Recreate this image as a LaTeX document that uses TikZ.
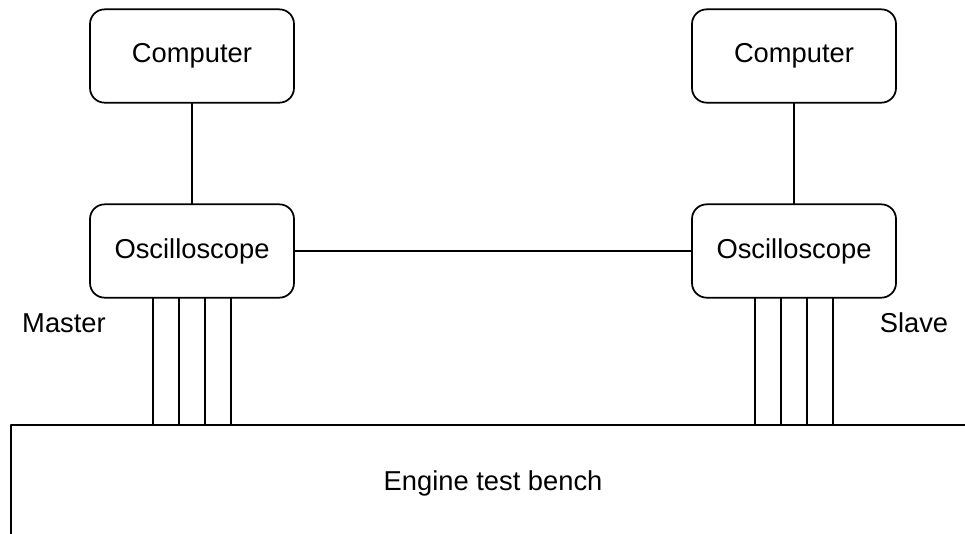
\documentclass[tikz,border=0pt]{standalone}
\usepackage{fontspec}
\setmainfont{Liberation Sans}
\usetikzlibrary{positioning}

\begin{document}
\begin{tikzpicture}[x=0.75pt, y=-0.75pt, line cap=round, line join=round]
    \tikzset{
      unit/.style={draw, line width=1.3pt, rounded corners=11pt,
        minimum width=153pt, minimum height=70pt, inner sep=0pt},
      link/.style={line width=1pt},
      benchbox/.style={draw, line width=1.6pt, minimum width=723pt,
        minimum height=88pt, inner sep=0pt, anchor=north west},
    }
    \fontsize{20.5}{24}\selectfont

    % --- page frame, the bench runs out over the edges
    \clip (0,0) rectangle (965,533);

    % --- the two stations
    \node[unit] (pcM) at (192,56) {Computer};
    \node[unit] (scopeM) at (192,251) {Oscilloscope};
    \node[unit] (pcS) at (794,56) {Computer};
    \node[unit] (scopeS) at (794,251) {Oscilloscope};

    % --- the bench
    \node[benchbox] (bench) at (10,424) {Engine test bench};

    \node (master) at (64,323) {Master};
    \node (slave) at (914,323) {Slave};

    % --- links
    \draw[link] (pcM) -- (scopeM);
    \draw[link] (pcS) -- (scopeS);
    \draw[link] (scopeM) -- (scopeS);

    % --- probe lines down to the bench
    \foreach \dx in {-39, -13, 13, 39} {
      \draw[link] ([xshift=\dx*0.75pt]scopeM.south)
        -- ([xshift=\dx*0.75pt]scopeM.south |- bench.north);
      \draw[link] ([xshift=\dx*0.75pt]scopeS.south)
        -- ([xshift=\dx*0.75pt]scopeS.south |- bench.north);
    }
\end{tikzpicture}
\end{document}
